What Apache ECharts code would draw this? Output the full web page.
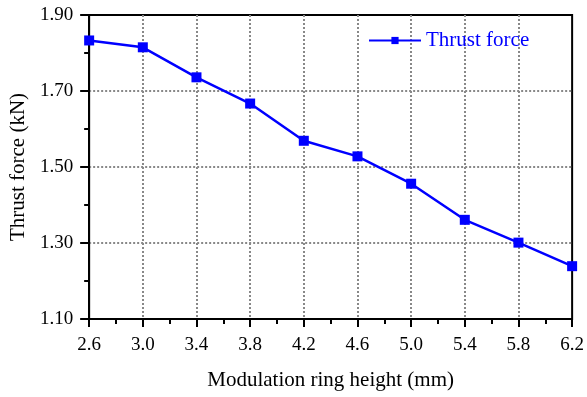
<!DOCTYPE html>
<html>
<head>
<meta charset="utf-8">
<script src="https://cdn.jsdelivr.net/npm/echarts@6/dist/echarts.min.js"></script>
<style>
  html, body { margin: 0; padding: 0; background: #fff; }
  #chart { width: 587px; height: 397px; }
</style>
</head>
<body>
<div id="chart"></div>
<script>
// Modulation ring height (mm) and the resulting thrust force (kN)
const ringHeight = [2.6, 3.0, 3.4, 3.8, 4.2, 4.6, 5.0, 5.4, 5.8, 6.2];
const thrustForce = [1.833, 1.815, 1.736, 1.667, 1.569, 1.528, 1.456, 1.361, 1.301, 1.239];
const seriesName = 'Thrust force';
const xTitle = 'Modulation ring height (mm)';
const yTitle = 'Thrust force (kN)';

const serif = '"Liberation Serif", "Times New Roman", serif';
const chart = echarts.init(document.getElementById('chart'), null, { renderer: 'canvas' });

const dotted = { color: '#888', type: [2, 2], width: 2 };

chart.setOption({
  backgroundColor: '#fff',
  animation: false,
  textStyle: { fontFamily: serif },
  grid: {
    left: 87, right: 13, top: 15, bottom: 78,
    show: true, borderColor: '#000', borderWidth: 2, backgroundColor: 'transparent'
  },
  legend: {
    data: [seriesName],
    left: 363, top: 25,
    itemWidth: 52, itemHeight: 9, itemGap: 6,
    textStyle: { color: '#0000ff', fontSize: 21, fontFamily: serif }
  },
  xAxis: {
    type: 'value',
    min: 2.6, max: 6.2, interval: 0.4,
    name: xTitle, nameLocation: 'middle', nameGap: 51,
    nameTextStyle: { fontSize: 21, color: '#000', fontFamily: serif },
    axisLine: { lineStyle: { color: '#000', width: 2 } },
    axisTick: { inside: false, length: 8, lineStyle: { color: '#000', width: 2 } },
    minorTick: { show: true, splitNumber: 2, length: 5, lineStyle: { color: '#000', width: 2 } },
    axisLabel: { fontSize: 19, color: '#000', margin: 17, formatter: v => v.toFixed(1) },
    splitLine: { show: true, showMinLine: false, showMaxLine: false, lineStyle: dotted }
  },
  yAxis: {
    type: 'value',
    min: 1.1, max: 1.9, interval: 0.2,
    name: yTitle, nameLocation: 'middle', nameGap: 57, nameRotate: 90,
    nameTextStyle: { fontSize: 21, color: '#000', fontFamily: serif },
    axisLine: { lineStyle: { color: '#000', width: 2 } },
    axisTick: { inside: false, length: 9, lineStyle: { color: '#000', width: 2 } },
    minorTick: { show: true, splitNumber: 2, length: 5, lineStyle: { color: '#000', width: 2 } },
    axisLabel: { fontSize: 19, color: '#000', margin: 16, formatter: v => v.toFixed(2) },
    splitLine: { show: true, showMinLine: false, showMaxLine: false, lineStyle: dotted }
  },
  series: [{
    name: seriesName,
    type: 'line',
    data: ringHeight.map((x, i) => [x, thrustForce[i]]),
    symbol: 'rect', symbolSize: 10,
    itemStyle: { color: '#0000ff' },
    lineStyle: { color: '#0000ff', width: 2.5 },
    clip: false
  }]
});
</script>
</body>
</html>
